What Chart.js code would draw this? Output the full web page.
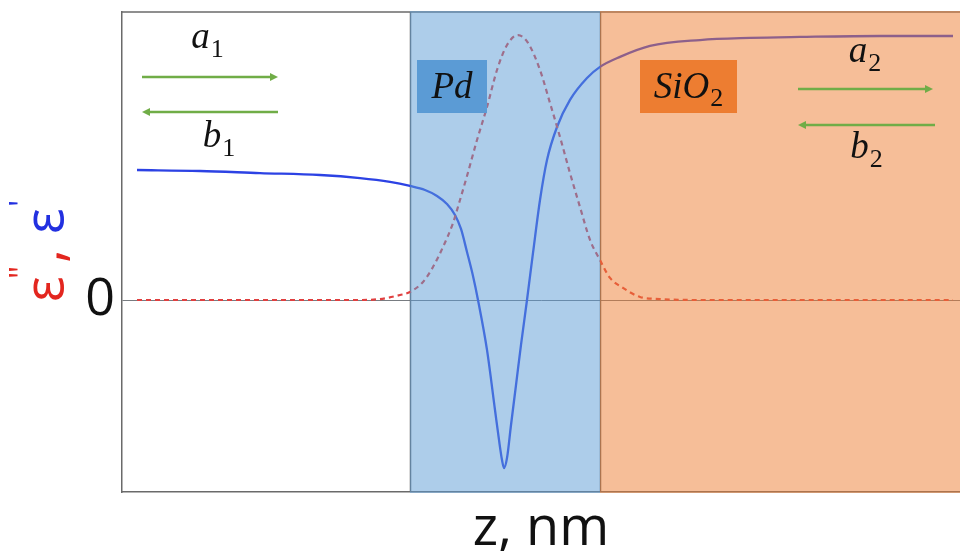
<!DOCTYPE html>
<html><head><meta charset="utf-8">
<script src="https://cdn.jsdelivr.net/npm/chart.js@4"></script>
<style>html,body{margin:0;padding:0;background:#fff;overflow:hidden}</style>
</head><body>
<canvas id="c" width="960" height="551"></canvas>
<script>
// ---- data ----
const epsRealZ = [1.5, 7.8, 13.8, 19.8, 23.8, 26.8, 28.8, 30.3, 31.5, 32.5, 33.3, 33.9, 34.5, 35.1, 35.6, 36.5, 37.3, 37.7, 38.0, 38.2, 38.5, 38.9, 39.4, 39.9, 40.5, 41.1, 41.8, 42.5, 43.5, 44.8, 46.5, 47.8, 49.8, 52.8, 57.8, 62.8, 67.8, 75.8, 83.1];
const epsRealV = [67.7, 67.2, 66.1, 65.1, 63.5, 61.5, 59.4, 57.3, 54.2, 50.0, 44.3, 37.0, 25.0, 12.5, 0, -26.0, -57.3, -72.9, -83.3, -87.5, -82.3, -65.1, -44.3, -23.4, 0, 24.5, 52.1, 72.9, 90.1, 104.2, 115.6, 121.4, 126.6, 132.3, 135.4, 136.5, 137.0, 137.5, 137.5];
const epsImagZ = [1.5, 17.8, 23.8, 25.8, 27.8, 28.8, 30.1, 31.1, 32.1, 33.1, 33.8, 34.5, 35.5, 36.5, 37.5, 38.5, 39.6, 40.6, 41.8, 42.8, 43.8, 44.8, 45.8, 46.8, 47.8, 48.8, 50.1, 51.8, 53.8, 57.8, 83.1];
const epsImagV = [0, 0, 0, 0.5, 2.6, 4.2, 9.4, 17.2, 27.6, 40.1, 52.1, 64.6, 83.3, 100.5, 119.8, 132.8, 138.0, 133.9, 119.8, 102.6, 84.9, 66.1, 48.4, 31.3, 20.8, 11.5, 6.3, 1.6, 0.5, 0, 0];
const yTickValues = [0];
const layerNames = ['Pd', 'SiO'];
const layerSubs = ['', '2'];
const layerStart = [28.8, 47.8];
const layerEnd = [47.8, 83.8];
const waveNames = ['a', 'b', 'a', 'b'];
const waveSubs = ['1', '1', '2', '2'];
const waveDir = [1, -1, 1, -1];
const xAxisTitle = 'z, nm';

// ---- placement & styles ----
const SERIF = '"Liberation Serif", "DejaVu Serif", serif';
const SANS = '"Open Sans", "Noto Sans", sans-serif';
const layerFill = ['rgba(91,155,213,0.5)', 'rgba(237,125,49,0.5)'];
const layerBox = ['#5b9bd5', '#ed7d31'];
const boxZ = [[29.5, 36.5], [51.8, 61.5]];
const boxV = [125, 97.4];
const boxTextV = 105.2;
const arrowZ = [[2.0, 15.6], [2.0, 15.6], [67.6, 81.1], [67.6, 81.3]];
const arrowV = [116.1, 97.9, 109.9, 91.1];
const labelZ = [8.55, 9.7, 74.3, 74.45];
const labelV = [131.25, 79.7, 124.0, 74.0];

function subText(ctx, main, sub, cx, by, mainSize, subSize, drop) {
  ctx.textAlign = 'left'; ctx.textBaseline = 'alphabetic';
  ctx.font = `italic ${mainSize}px ${SERIF}`; const w1 = ctx.measureText(main).width;
  ctx.font = `${subSize}px ${SERIF}`; const w2 = sub ? ctx.measureText(sub).width + 1 : 0;
  const x = cx - (w1 + w2) / 2;
  ctx.font = `italic ${mainSize}px ${SERIF}`; ctx.fillText(main, x, by);
  if (sub) { ctx.font = `${subSize}px ${SERIF}`; ctx.fillText(sub, x + w1 + 1, by + drop); }
}

const decor = {
  id: 'decor',
  beforeDatasetsDraw(chart) {
    const {ctx, chartArea: a, scales: {x}} = chart;
    ctx.save();
    ctx.strokeStyle = '#6a6a6a'; ctx.lineWidth = 1.5;
    ctx.beginPath(); ctx.moveTo(a.left, a.top); ctx.lineTo(a.right, a.top); ctx.stroke();
    layerStart.forEach(s => {
      const px = Math.round(x.getPixelForValue(s)) + 0.5;
      ctx.beginPath(); ctx.moveTo(px, a.top); ctx.lineTo(px, a.bottom); ctx.stroke();
    });
    ctx.restore();
  },
  afterDatasetsDraw(chart) {
    const {ctx, chartArea: a, scales: {x, y}} = chart;
    ctx.save();
    layerStart.forEach((s, i) => {
      const x0 = x.getPixelForValue(s), x1 = x.getPixelForValue(layerEnd[i]);
      ctx.fillStyle = layerFill[i];
      ctx.fillRect(x0, a.top - 1, x1 - x0, a.bottom - a.top + 2);
    });
    layerNames.forEach((n, i) => {
      const x0 = x.getPixelForValue(boxZ[i][0]), x1 = x.getPixelForValue(boxZ[i][1]);
      const y0 = y.getPixelForValue(boxV[0]), y1 = y.getPixelForValue(boxV[1]);
      ctx.fillStyle = layerBox[i];
      ctx.fillRect(x0, y0, x1 - x0, y1 - y0);
      ctx.fillStyle = '#111';
      subText(ctx, n, layerSubs[i], (x0 + x1) / 2, y.getPixelForValue(boxTextV), 37, 26, 8);
    });
    waveNames.forEach((n, i) => {
      const x0 = x.getPixelForValue(arrowZ[i][0]), x1 = x.getPixelForValue(arrowZ[i][1]);
      const py = y.getPixelForValue(arrowV[i]);
      const d = waveDir[i];
      const tip = d > 0 ? x1 : x0, base = tip - d * 8, tail = d > 0 ? x0 : x1;
      ctx.strokeStyle = ctx.fillStyle = '#70ad47'; ctx.lineWidth = 2.5;
      ctx.beginPath(); ctx.moveTo(tail, py); ctx.lineTo(base, py); ctx.stroke();
      ctx.beginPath(); ctx.moveTo(tip, py); ctx.lineTo(base, py - 4); ctx.lineTo(base, py + 4); ctx.closePath(); ctx.fill();
      ctx.fillStyle = '#111';
      subText(ctx, n, waveSubs[i], x.getPixelForValue(labelZ[i]), y.getPixelForValue(labelV[i]), 37, 26, 9);
    });
    ctx.restore();
  },
  afterDraw(chart) {
    const {ctx, scales: {y}} = chart;
    const y0 = y.getPixelForValue(0);
    ctx.save();
    ctx.translate(63, y0);
    ctx.rotate(-Math.PI / 2);
    ctx.textAlign = 'left'; ctx.textBaseline = 'alphabetic';
    const red = '#e3261f', blue = '#2230e0';
    ctx.fillStyle = red;
    ctx.font = `54px ${SANS}`; ctx.fillText('ε', -2, 0);
    ctx.font = `33px ${SANS}`; ctx.fillText('"', 21, -30);
    ctx.font = `54px ${SANS}`; ctx.fillText(',', 37, 0);
    ctx.fillStyle = blue;
    ctx.font = `54px ${SANS}`; ctx.fillText('ε', 66, 0);
    ctx.font = `33px ${SANS}`; ctx.fillText("'", 93, -30);
    ctx.restore();
  }
};

new Chart(document.getElementById('c'), {
  type: 'line',
  data: {
    datasets: [
      {
        label: "ε''",
        data: epsImagZ.map((z, i) => ({x: z, y: epsImagV[i]})),
        borderColor: '#e04040', borderWidth: 2.2, borderDash: [5, 4],
        pointRadius: 0, cubicInterpolationMode: 'monotone', fill: false
      },
      {
        label: "ε'",
        data: epsRealZ.map((z, i) => ({x: z, y: epsRealV[i]})),
        borderColor: '#2c42e4', borderWidth: 2.3,
        pointRadius: 0, cubicInterpolationMode: 'monotone', fill: false
      }
    ]
  },
  options: {
    responsive: false, animation: false,
    layout: {padding: {top: 12, right: 0, left: 0, bottom: 0}},
    plugins: {legend: {display: false}, tooltip: {enabled: false}},
    scales: {
      x: {
        type: 'linear', min: 0, max: 83.8,
        ticks: {display: false},
        grid: {display: false},
        border: {display: true, color: '#6a6a6a', width: 1.5},
        title: {display: true, text: xAxisTitle, color: '#111', padding: 0,
                font: {family: SANS, size: 54, lineHeight: 0.8}},
        afterFit: s => { s.height = 59; s.paddingLeft = 0; s.paddingRight = 0; }
      },
      y: {
        type: 'linear', min: -100, max: 150,
        afterBuildTicks: s => { s.ticks = yTickValues.map(v => ({value: v})); },
        ticks: {color: '#111', padding: 7, font: {family: SANS, size: 52}, callback: v => String(v)},
        grid: {display: true, drawTicks: false, color: 'rgba(105,110,115,0.9)', lineWidth: 1},
        border: {display: true, color: '#6a6a6a', width: 1.5},
        afterFit: s => { s.width = 122; s.paddingTop = 0; s.paddingBottom = 0; }
      }
    }
  },
  plugins: [decor]
});
</script>
</body></html>
